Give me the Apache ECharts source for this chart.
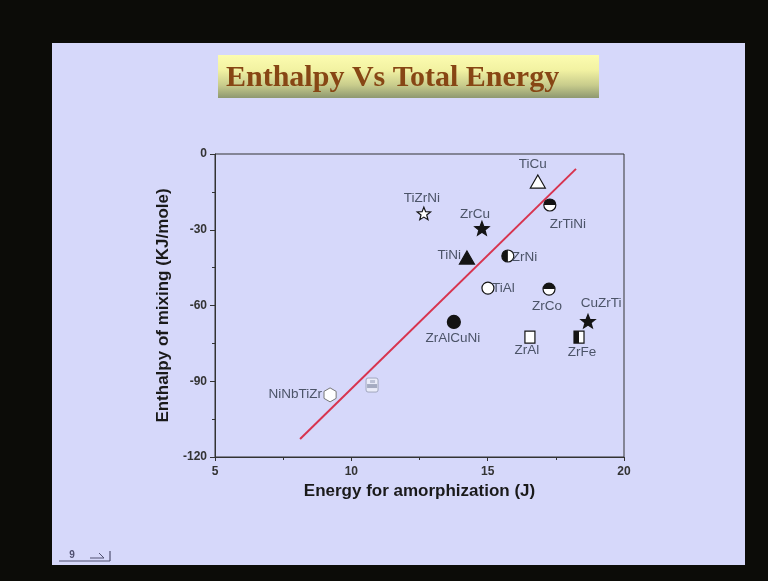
<!DOCTYPE html>
<html>
<head>
<meta charset="utf-8">
<script src="https://cdn.jsdelivr.net/npm/echarts@6/dist/echarts.min.js"></script>
<style>html,body{margin:0;padding:0;background:#0c0c08;}#chart{width:768px;height:581px;}</style>
</head>
<body>
<div id="chart"></div>
<script>
// ---- data ----
const alloys = ['TiCu','ZrTiNi','TiZrNi','ZrCu','TiNi','ZrNi','TiAl','ZrCo','CuZrTi','ZrAlCuNi','ZrAl','ZrFe','NiNbTiZr','(blurred)'];
const energy = [16.84,17.28,12.66,14.79,14.24,15.74,15.01,17.25,18.68,13.76,16.55,18.35,9.22,10.76];
const enthalpy = [-11.5,-20.2,-23.8,-29.7,-41.6,-40.4,-53.1,-53.5,-66.5,-66.5,-72.5,-72.5,-95.4,-91.5];
const fitEnergy = [8.12, 18.24];
const fitEnthalpy = [-112.9, -5.9];
const xTicks = [5, 10, 15, 20];
const yTicks = [-120, -90, -60, -30, 0];

// ---- styles (marker shape + label placement) ----
const markerStyle = {
  'TiCu':      {shape:'triangle-open', lx:-5,  ly:-19, align:'center'},
  'ZrTiNi':    {shape:'circle-top',    lx:18,  ly:19,  align:'center'},
  'TiZrNi':    {shape:'star-open',     lx:-2,  ly:-16, align:'center'},
  'ZrCu':      {shape:'star-filled',   lx:-7,  ly:-15, align:'center'},
  'TiNi':      {shape:'triangle-filled', lx:-6, ly:-4, align:'right'},
  'ZrNi':      {shape:'circle-left',   lx:4,   ly:1,   align:'left'},
  'TiAl':      {shape:'circle-open',   lx:4,   ly:0,   align:'left'},
  'ZrCo':      {shape:'circle-top',    lx:-2,  ly:17,  align:'center'},
  'CuZrTi':    {shape:'star-filled',   lx:13,  ly:-19, align:'center'},
  'ZrAlCuNi':  {shape:'circle-filled', lx:-1,  ly:16,  align:'center'},
  'ZrAl':      {shape:'square-open',   lx:-3,  ly:13,  align:'center'},
  'ZrFe':      {shape:'square-left',   lx:3,   ly:15,  align:'center'},
  'NiNbTiZr':  {shape:'hexagon-open',  lx:-8,  ly:-1,  align:'right'},
  '(blurred)': {shape:'blur',          lx:0,   ly:0,   align:'center', noLabel:true}
};

const points = energy.map((e, i) => [e, enthalpy[i]]);
const fitLine = fitEnergy.map((e, i) => [e, fitEnthalpy[i]]);

const INK = '#141414';
const FONT = '"Liberation Sans", Arial, sans-serif';
function starPts(cx, cy, R, r) {
  const p = [];
  for (let k = 0; k < 10; k++) {
    const a = -Math.PI / 2 + k * Math.PI / 5;
    const rad = k % 2 === 0 ? R : r;
    p.push([cx + rad * Math.cos(a), cy + rad * Math.sin(a)]);
  }
  return p;
}
function polyPts(cx, cy, R, n, rot) {
  const p = [];
  for (let k = 0; k < n; k++) {
    const a = rot + k * 2 * Math.PI / n;
    p.push([cx + R * Math.cos(a), cy + R * Math.sin(a)]);
  }
  return p;
}

function renderItem(params, api) {
  const i = params.dataIndex;
  const c = api.coord([api.value(0), api.value(1)]);
  const x = c[0], y = c[1];
  const st = markerStyle[alloys[i]];
  const ch = [];
  const stroke = {stroke: INK, lineWidth: 1.2};
  switch (st.shape) {
    case 'circle-open':
      ch.push({type:'circle', shape:{cx:x, cy:y, r:6}, style:Object.assign({fill:'#fff'}, stroke)}); break;
    case 'circle-filled':
      ch.push({type:'circle', shape:{cx:x, cy:y, r:6.5}, style:Object.assign({fill:INK}, stroke)}); break;
    case 'circle-top':
      ch.push({type:'circle', shape:{cx:x, cy:y, r:6}, style:{fill:'#fff'}});
      ch.push({type:'sector', shape:{cx:x, cy:y, r:6, r0:0, startAngle:Math.PI, endAngle:2*Math.PI}, style:{fill:INK}});
      ch.push({type:'circle', shape:{cx:x, cy:y, r:6}, style:Object.assign({fill:null}, stroke)}); break;
    case 'circle-left':
      ch.push({type:'circle', shape:{cx:x, cy:y, r:6}, style:{fill:'#fff'}});
      ch.push({type:'sector', shape:{cx:x, cy:y, r:6, r0:0, startAngle:Math.PI/2, endAngle:3*Math.PI/2}, style:{fill:INK}});
      ch.push({type:'circle', shape:{cx:x, cy:y, r:6}, style:Object.assign({fill:null}, stroke)}); break;
    case 'triangle-open':
      ch.push({type:'polygon', shape:{points:[[x, y-8],[x+7.5, y+5],[x-7.5, y+5]]}, style:Object.assign({fill:'#fff'}, stroke)}); break;
    case 'triangle-filled':
      ch.push({type:'polygon', shape:{points:[[x, y-8],[x+7.5, y+5],[x-7.5, y+5]]}, style:Object.assign({fill:INK}, stroke)}); break;
    case 'star-open':
      ch.push({type:'polygon', shape:{points:starPts(x, y, 7, 3)}, style:Object.assign({fill:'#fff'}, stroke)}); break;
    case 'star-filled':
      ch.push({type:'polygon', shape:{points:starPts(x, y, 7.5, 3.2)}, style:Object.assign({fill:INK}, stroke)}); break;
    case 'square-open':
      ch.push({type:'rect', shape:{x:x-5, y:y-6, width:10, height:12}, style:Object.assign({fill:'#fff'}, stroke)}); break;
    case 'square-left':
      ch.push({type:'rect', shape:{x:x-5, y:y-6, width:10, height:12}, style:{fill:'#fff'}});
      ch.push({type:'rect', shape:{x:x-5, y:y-6, width:5, height:12}, style:{fill:INK}});
      ch.push({type:'rect', shape:{x:x-5, y:y-6, width:10, height:12}, style:Object.assign({fill:null}, stroke)}); break;
    case 'hexagon-open':
      ch.push({type:'polygon', shape:{points:polyPts(x, y, 7, 6, Math.PI/6)}, style:{fill:'#fff', stroke:'#777', lineWidth:1}}); break;
    case 'blur':
      ch.push({type:'rect', shape:{x:x-6, y:y-7, width:12, height:14, r:2}, style:{fill:'#eceef8', stroke:'#9aa0b8', lineWidth:1, opacity:0.9}});
      ch.push({type:'rect', shape:{x:x-5, y:y-1, width:10, height:4}, style:{fill:'#8890aa', opacity:0.7}});
      ch.push({type:'rect', shape:{x:x-2, y:y-5, width:5, height:3}, style:{fill:'#b0b6cc', opacity:0.8}});
      break;
  }
  if (!st.noLabel) {
    ch.push({type:'text', x:x+st.lx, y:y+st.ly, style:{text:alloys[i], fill:'#4c5468', font:'13.5px ' + FONT, align:st.align, verticalAlign:'middle'}});
  }
  return {type:'group', children:ch};
}

const chart = echarts.init(document.getElementById('chart'), null, {renderer:'canvas'});
chart.setOption({
  backgroundColor: '#0c0c08',
  animation: false,
  graphic: [
    {type:'rect', z:-10, shape:{x:52, y:43, width:693, height:522}, style:{fill:'#d6d8fa'}},
    {type:'rect', z:-5, shape:{x:218, y:55, width:381, height:43},
      style:{fill:new echarts.graphic.LinearGradient(0,0,0,1,[
        {offset:0, color:'#fcfcb0'},{offset:0.35, color:'#f2f2a2'},{offset:0.7, color:'#c8cc8c'},{offset:1, color:'#8e9870'}])}},
    {type:'text', z:-4, x:226, y:78, style:{text:'Enthalpy Vs Total Energy', fill:'#874614', font:'bold 30px "Liberation Serif", "Times New Roman", serif', align:'left', verticalAlign:'middle', shadowColor:'rgba(40,20,0,0.45)', shadowBlur:2, shadowOffsetX:1, shadowOffsetY:1}},
    {type:'line', shape:{x1:59, y1:561, x2:110, y2:561}, style:{stroke:'#505070', lineWidth:1.2}},
    {type:'line', shape:{x1:110, y1:551, x2:110, y2:561}, style:{stroke:'#505070', lineWidth:1.2}},
    {type:'line', shape:{x1:90, y1:558, x2:104, y2:558}, style:{stroke:'#505070', lineWidth:1}},
    {type:'line', shape:{x1:99, y1:553, x2:104, y2:558}, style:{stroke:'#505070', lineWidth:1}},
    {type:'text', x:72, y:555, style:{text:'9', fill:'#505070', font:'bold 10px ' + FONT, align:'center', verticalAlign:'middle'}}
  ],
  grid: {left:215, right:144, top:154, bottom:124, show:true, borderColor:'#333', borderWidth:1, backgroundColor:'transparent'},
  xAxis: {
    type:'value', min:xTicks[0], max:xTicks[xTicks.length-1], interval:5,
    name:'Energy for amorphization (J)', nameLocation:'middle', nameGap:25,
    nameTextStyle:{color:'#1a1a1a', fontWeight:'bold', fontSize:17, fontFamily:FONT},
    axisLine:{show:true, onZero:false, lineStyle:{color:'#333', width:1}},
    axisTick:{show:true, inside:false, length:4, lineStyle:{color:'#333'}},
    minorTick:{show:true, splitNumber:2, length:3, lineStyle:{color:'#333'}},
    splitLine:{show:false},
    axisLabel:{margin:9, color:'#333', fontWeight:'bold', fontSize:12, fontFamily:FONT}
  },
  yAxis: {
    type:'value', min:yTicks[0], max:yTicks[yTicks.length-1], interval:30,
    name:'Enthalpy of mixing (KJ/mole)', nameLocation:'middle', nameGap:33,
    nameTextStyle:{color:'#1a1a1a', fontWeight:'bold', fontSize:17, fontFamily:FONT},
    axisLine:{show:true, onZero:false, lineStyle:{color:'#333', width:1}},
    axisTick:{show:true, inside:false, length:5, lineStyle:{color:'#333'}},
    minorTick:{show:true, splitNumber:2, length:3, lineStyle:{color:'#333'}},
    splitLine:{show:false},
    axisLabel:{margin:8, color:'#333', fontWeight:'bold', fontSize:12, fontFamily:FONT}
  },
  series: [
    {type:'line', data:fitLine, symbol:'none', lineStyle:{color:'#d8344f', width:2}, z:2},
    {type:'custom', data:points, renderItem:renderItem, encode:{x:0, y:1}, z:3}
  ]
});
</script>
</body>
</html>
